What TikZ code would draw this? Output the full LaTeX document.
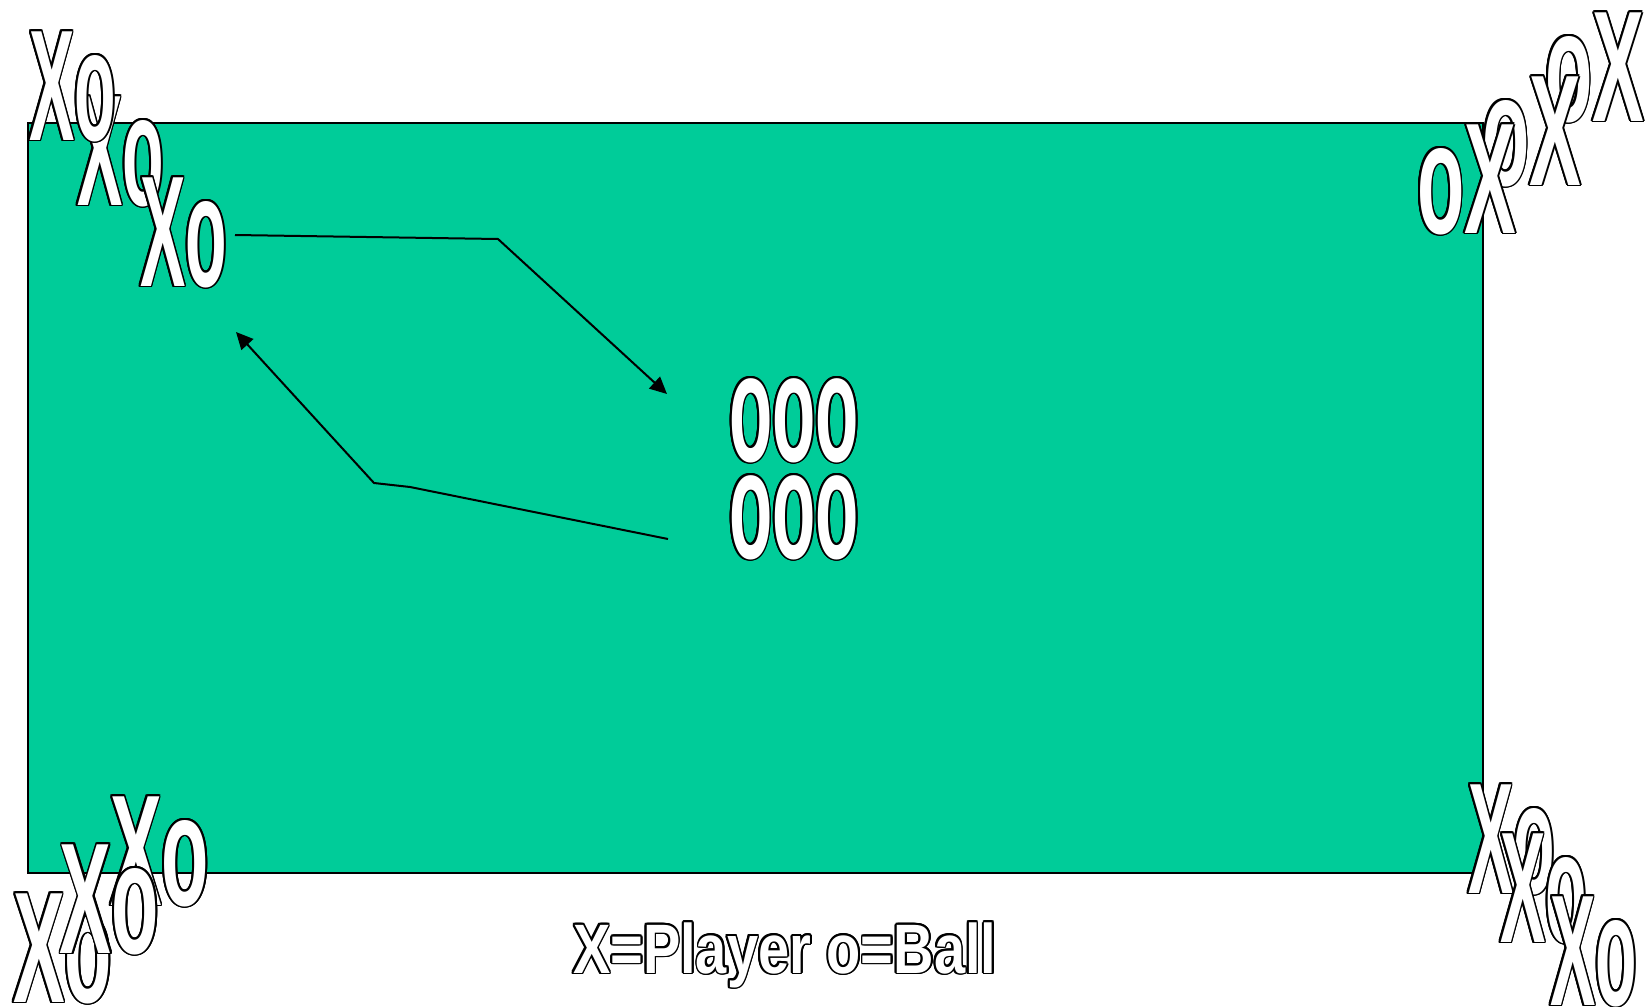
\documentclass[tikz,border=0pt]{standalone}
\usepackage{fontspec}
\setmainfont{Liberation Sans}
\usepackage{graphicx}
\usepackage[copies]{contour}
\contourlength{0.9pt}
\contournumber{16}
\usetikzlibrary{arrows.meta}
\definecolor{field}{RGB}{0,204,153}
\newcommand{\outl}[2]{\contour{black}{\scalebox{#1}[1]{#2}}}
\tikzset{
  lbl/.style={inner sep=0pt, outer sep=0pt, anchor=base west, text=white,
    font=\bfseries\fontsize{79}{79}\selectfont},
  ballbox/.style={lbl, font=\bfseries\fontsize{77}{77}\selectfont},
  legendbox/.style={lbl, font=\bfseries\fontsize{35}{35}\selectfont},
  conn/.style={draw=black, line width=1pt, -{Triangle[length=8.5pt,width=8pt]}},
}
\begin{document}
\begin{tikzpicture}[x=0.5pt,y=-0.5pt]
\useasboundingbox (0,0) rectangle (1646,1007);
% field
\node (field) [draw=black, line width=1pt, fill=field, inner sep=0pt,
  minimum width=727.5pt, minimum height=375pt] at (755.5,498) {};
% centre balls
\node (ballsA) [ballbox] at (729,461) {\outl{0.46}{ooo}};
\node (ballsB) [ballbox] at (729,558) {\outl{0.46}{ooo}};
% top left
\node (tl2) [lbl] at (77,205) {\outl{0.43}{Xo}};
\node (tl1) [lbl] at (29,140) {\outl{0.43}{Xo}};
\node (tl3) [lbl] at (140,286) {\outl{0.43}{Xo}};
% top right
\node (tr3) [lbl] at (1545,121) {\outl{0.49}{oX}};
\node (tr2) [lbl] at (1482,185) {\outl{0.49}{oX}};
\node (tr1) [lbl] at (1417,233) {\outl{0.49}{oX}};
% bottom left
\node (bl1) [lbl] at (13,1002) {\outl{0.49}{Xo}};
\node (bl3) [lbl] at (110,905) {\outl{0.49}{Xo}};
\node (bl2) [lbl] at (60,953) {\outl{0.49}{Xo}};
% bottom right
\node (br1) [lbl] at (1468,893) {\outl{0.43}{Xo}};
\node (br2) [lbl] at (1500,942) {\outl{0.43}{Xo}};
\node (br3) [lbl] at (1550,1005) {\outl{0.43}{Xo}};
% legend
\node (legend) [legendbox] at (573,973) {\outl{0.8}{X=Player o=Ball}};
% connectors
\coordinate (s1) at (235,235);
\coordinate (b1) at (498,239);
\coordinate (e1) at (667,394);
\coordinate (s2) at (668,539);
\coordinate (b2) at (410,487);
\coordinate (c2) at (374,483);
\coordinate (e2) at (236,332);
\draw[conn] (s1) -- (b1) -- (e1);
\draw[conn] (s2) -- (b2) -- (c2) -- (e2);
\end{tikzpicture}
\end{document}
